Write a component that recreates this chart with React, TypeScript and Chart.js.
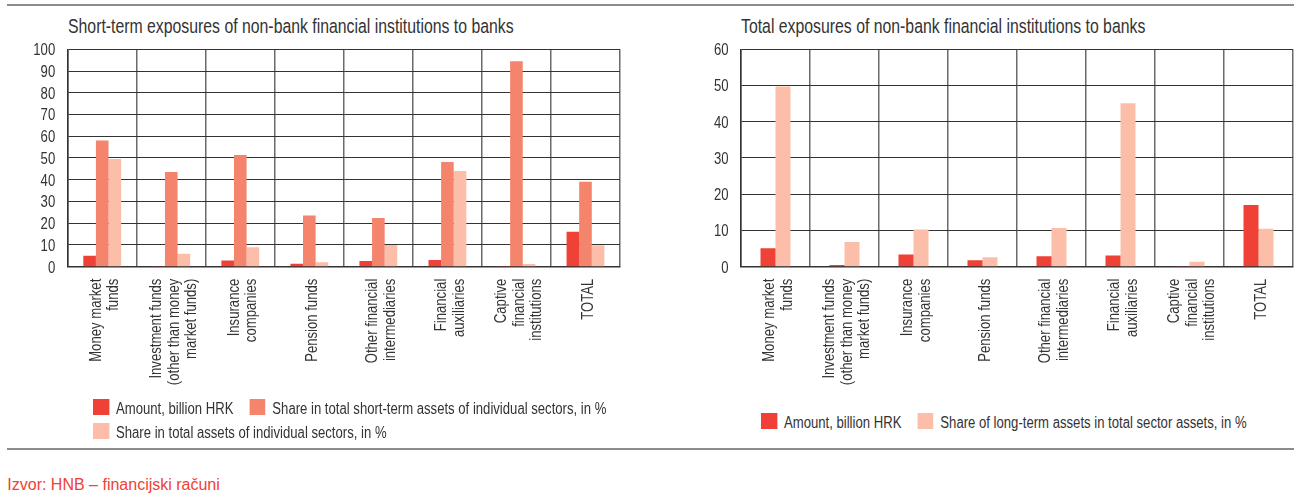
import React, { useEffect, useRef } from "react";
import { Chart, registerables } from "chart.js";

Chart.register(...registerables);

// ---------- data ----------
const categories: string[][] = [
  ["Money market", "funds"],
  ["Investment funds", "(other than money", "market funds)"],
  ["Insurance", "companies"],
  ["Pension funds"],
  ["Other financial", "intermediaries"],
  ["Financial", "auxiliaries"],
  ["Captive", "financial", "institutions"],
  ["TOTAL"],
];

// Left chart: short-term exposures
const shortAmount = [5.0, 0.3, 2.9, 1.4, 2.6, 3.1, 0.1, 16.1];
const shortShareShortTermAssets = [58.1, 43.6, 51.4, 23.6, 22.4, 48.2, 94.5, 39.1];
const shortShareTotalAssets = [49.5, 6.0, 9.0, 2.1, 10.0, 44.0, 1.2, 9.9];

// Right chart: total exposures
const totalAmount = [5.1, 0.5, 3.4, 1.75, 2.9, 3.1, 0.2, 17.0];
const totalShareLongTerm = [49.7, 6.8, 10.3, 2.6, 10.7, 45.1, 1.4, 10.5];

const leftYTicks = { min: 0, max: 100, step: 10 };
const rightYTicks = { min: 0, max: 60, step: 10 };

const leftTitle = "Short-term exposures of non-bank financial institutions to banks";
const rightTitle = "Total exposures of non-bank financial institutions to banks";
const leftSeriesNames = [
  "Amount, billion HRK",
  "Share in total short-term assets of individual sectors, in %",
  "Share in total assets of individual sectors, in %",
];
const rightSeriesNames = [
  "Amount, billion HRK",
  "Share of long-term assets in total sector assets, in %",
];
const sourceText = "Izvor: HNB – financijski računi";

// ---------- style ----------
const RED = "#ef4136";
const SALMON = "#f4846b";
const LIGHT = "#fcbea8";
const TEXT = "#333333";
const SANS = "'Liberation Sans', Arial, sans-serif";
const NARROW_X = 0.82; // horizontal condensing to mimic a narrow sans

// draws the category labels (rotated, multi-line) and the y tick labels in a condensed face
const narrowTextPlugin = {
  id: "narrowAxisText",
  afterDraw(chart: any) {
    const xs = chart.scales.x;
    const ys = chart.scales.y;
    const ctx = chart.ctx;
    const labels = chart.data.labels as any[];
    ctx.save();
    ctx.font = `16px ${SANS}`;
    ctx.fillStyle = TEXT;
    ctx.textAlign = "right";
    ctx.textBaseline = "middle";
    const lh = 17.5;
    labels.forEach((lab, i) => {
      const lines: string[] = Array.isArray(lab) ? lab : [lab];
      const x = xs.getPixelForValue(i);
      ctx.save();
      ctx.translate(x + 3, xs.top + 12);
      ctx.rotate(-Math.PI / 2);
      ctx.scale(NARROW_X, 1);
      lines.forEach((ln, j) => {
        ctx.fillText(ln, 0, (j - (lines.length - 1) / 2) * lh / 1);
      });
      ctx.restore();
    });
    ys.ticks.forEach((t: any) => {
      const y = ys.getPixelForValue(t.value);
      ctx.save();
      ctx.translate(ys.right - 12.5, y + 1.5);
      ctx.scale(NARROW_X, 1);
      ctx.fillText(String(t.label), 0, 0);
      ctx.restore();
    });
    ctx.restore();
  },
};

function makeOptions(yt: { min: number; max: number; step: number }, yWidth: number, padRight: number, catPct: number) {
  return {
    responsive: false,
    maintainAspectRatio: false,
    animation: false as const,
    devicePixelRatio: 1,
    layout: { padding: { top: 19.3, left: 0, right: padRight, bottom: 0 } },
    plugins: {
      legend: { display: false },
      title: { display: false },
      tooltip: { enabled: false },
    },
    datasets: {
      bar: { categoryPercentage: catPct, barPercentage: 1.0 },
    },
    scales: {
      x: {
        grid: { display: true, color: "#6b6b6b", lineWidth: 1.5, drawTicks: false, offset: true },
        border: { display: true, color: "#333333", width: 1.5 },
        ticks: { display: false },
        afterFit: (scale: any) => {
          scale.height = 133.3;
        },
      },
      y: {
        min: yt.min,
        max: yt.max,
        grid: { color: "#333333", lineWidth: 1, drawTicks: false },
        border: { display: true, color: "#333333", width: 1.5 },
        ticks: { display: false, stepSize: yt.step, autoSkip: false },
        afterFit: (scale: any) => {
          scale.width = yWidth;
        },
      },
    },
  };
}

function BarChart(props: { datasets: any[]; yt: any; yWidth: number; padRight: number; catPct: number; width: number; height: number }) {
  const ref = useRef<HTMLCanvasElement | null>(null);
  useEffect(() => {
    if (!ref.current) return;
    const chart = new Chart(ref.current, {
      type: "bar",
      data: { labels: categories as any, datasets: props.datasets },
      options: makeOptions(props.yt, props.yWidth, props.padRight, props.catPct) as any,
      plugins: [narrowTextPlugin],
    });
    return () => chart.destroy();
  }, []);
  return (
    <canvas
      ref={ref}
      width={props.width}
      height={props.height}
      style={{ width: props.width, height: props.height, display: "block" }}
    />
  );
}

function Legend(props: { names: string[]; colors: string[]; left: number; top: number; width: number }) {
  const k = NARROW_X;
  return (
    <div
      style={{
        position: "absolute",
        left: props.left,
        top: props.top,
        width: props.width / k,
        display: "flex",
        flexWrap: "wrap",
        columnGap: 16 / k,
        rowGap: 5.7,
        transform: `scaleX(${k})`,
        transformOrigin: "left top",
      }}
    >
      {props.names.map((n, i) => (
        <div key={i} style={{ display: "flex", alignItems: "flex-start" }}>
          <div style={{ width: 16 / k, height: 16, background: props.colors[i], marginRight: 7 / k, flex: "none" }} />
          <div style={{ font: `16px ${SANS}`, lineHeight: "16px", marginTop: 2, color: TEXT, whiteSpace: "nowrap" }}>{n}</div>
        </div>
      ))}
    </div>
  );
}

export default function App() {
  const leftDatasets = [
    { label: leftSeriesNames[0], data: shortAmount, backgroundColor: RED },
    { label: leftSeriesNames[1], data: shortShareShortTermAssets, backgroundColor: SALMON },
    { label: leftSeriesNames[2], data: shortShareTotalAssets, backgroundColor: LIGHT },
  ];
  const rightDatasets = [
    { label: rightSeriesNames[0], data: totalAmount, backgroundColor: RED },
    { label: rightSeriesNames[1], data: totalShareLongTerm, backgroundColor: LIGHT },
  ];
  const titleStyle: React.CSSProperties = {
    position: "absolute",
    top: 17.2,
    font: `19.3px ${SANS}`,
    lineHeight: "19px",
    color: TEXT,
    whiteSpace: "nowrap",
    transform: `scaleX(${NARROW_X})`,
    transformOrigin: "left top",
  };
  return (
    <div style={{ position: "absolute", left: 0, top: 0, width: 1294, height: 498, overflow: "hidden", background: "#fff" }}>
      <div style={{ position: "absolute", left: 7, top: 4, width: 1287, height: 2, background: "#8c8c8c" }} />
      <div style={{ ...titleStyle, left: 68 }}>{leftTitle}</div>
      <div style={{ ...titleStyle, left: 741 }}>{rightTitle}</div>
      <div style={{ position: "absolute", left: 0, top: 30 }}>
        <BarChart datasets={leftDatasets} yt={leftYTicks} yWidth={67.7} padRight={30} catPct={0.548} width={650} height={370} />
      </div>
      <div style={{ position: "absolute", left: 650, top: 30 }}>
        <BarChart datasets={rightDatasets} yt={rightYTicks} yWidth={91} padRight={1} catPct={0.435} width={644} height={370} />
      </div>
      <Legend names={leftSeriesNames} colors={[RED, SALMON, LIGHT]} left={93} top={399.3} width={545} />
      <Legend names={rightSeriesNames} colors={[RED, LIGHT]} left={760.6} top={412.7} width={530} />
      <div style={{ position: "absolute", left: 7, top: 448, width: 1287, height: 2, background: "#8c8c8c" }} />
      <div style={{ position: "absolute", left: 7.3, top: 477.2, font: `16px ${SANS}`, lineHeight: "16px", color: RED, whiteSpace: "nowrap" }}>
        {sourceText}
      </div>
    </div>
  );
}
